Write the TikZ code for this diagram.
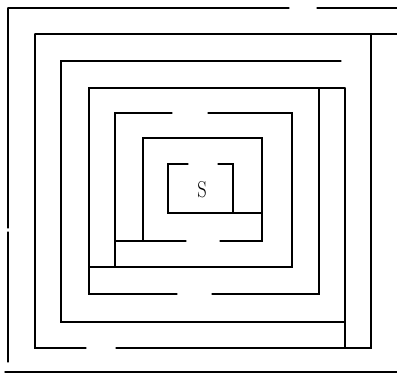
\documentclass[tikz,border=0pt]{standalone}
\usetikzlibrary{positioning}
\begin{document}
\begin{tikzpicture}[x=1pt,y=-1pt,
   wall/.style={draw,line width=1.1pt,line cap=round}]
  \useasboundingbox (0,0) rectangle (397,374);
  % outer wall
  \draw[wall] (8,8) -- (289,8);
  \draw[wall] (317,8) -- (397,8);
  \draw[wall] (8,8) -- (8,228);
  \draw[wall] (8,232) -- (8,362);
  \draw[wall,line width=1.5pt] (5,372) -- (397,372);
  % ring 1
  \draw[wall] (35,34) -- (397,34);
  \draw[wall] (86,348) -- (35,348) -- (35,34);
  \draw[wall] (116,348) -- (371,348) -- (371,34);
  % ring 2
  \draw[wall] (341,61) -- (61,61) -- (61,322) -- (345,322);
  \draw[wall] (345,88) -- (345,348);
  % ring 3
  \draw[wall] (177,294) -- (89,294) -- (89,88) -- (345,88);
  \draw[wall] (212,294) -- (319,294) -- (319,88);
  % ring 4
  \draw[wall] (172,113) -- (115,113) -- (115,267);
  \draw[wall] (208,113) -- (292,113) -- (292,267) -- (89,267);
  % ring 5
  \draw[wall] (115,241) -- (186,241);
  \draw[wall] (143,241) -- (143,138) -- (262,138) -- (262,241) -- (220,241);
  % ring 6
  \draw[wall] (188,164) -- (168,164) -- (168,213) -- (262,213);
  \draw[wall] (218,164) -- (233,164) -- (233,213);
  \node[font=\fontsize{23}{24}\selectfont,xscale=0.8] (start) at (202,190) {S};
\end{tikzpicture}
\end{document}
